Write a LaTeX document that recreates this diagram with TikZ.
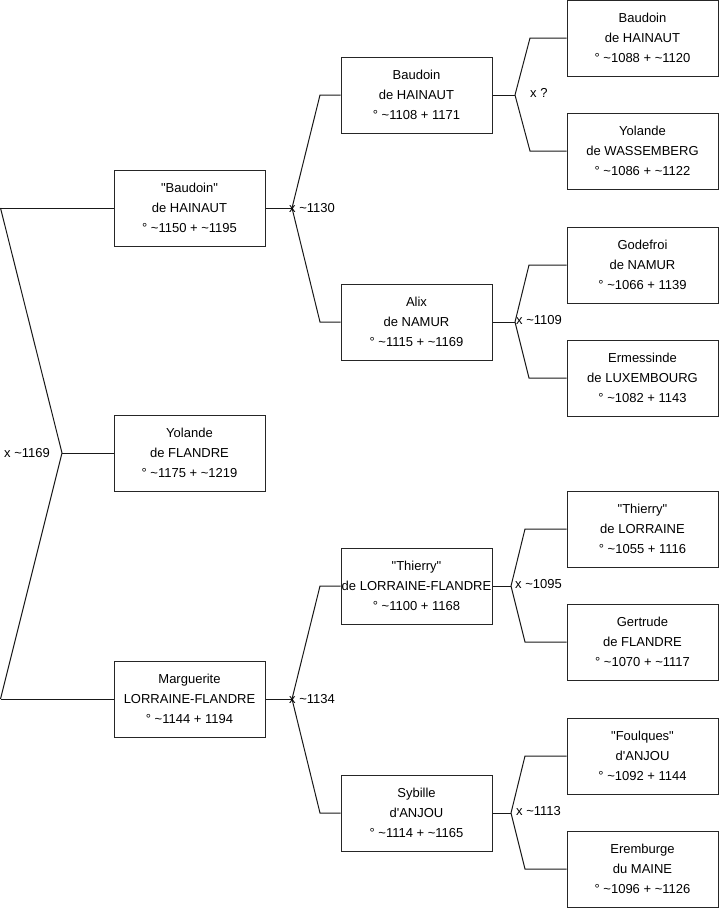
\documentclass[tikz,border=0pt]{standalone}
\usepackage{fontspec}
\setmainfont{Liberation Sans}[Ligatures=TeXOff]
\newcommand{\dq}{\char34\relax}
\newcommand{\sq}{\char39\relax}
\begin{document}
\begin{tikzpicture}[x=1pt,y=-1pt,
  person/.style={draw=black!85,line width=1pt,rectangle,minimum width=151pt,minimum height=76pt,
    inner sep=0pt,align=center,font=\fontsize{13}{20}\selectfont},
  link/.style={draw=black!90,line width=1pt},
  mlabel/.style={anchor=west,inner sep=0pt,font=\fontsize{13}{15}\selectfont}]
\useasboundingbox (0,0) rectangle (719,908);
% column 1
\node[person] (b1) at (189.5,208) {\dq Baudoin\dq\\de HAINAUT\\° \textasciitilde1150 + \textasciitilde1195};
\node[person] (y1) at (189.5,453) {Yolande\\de FLANDRE\\° \textasciitilde1175 + \textasciitilde1219};
\node[person] (m1) at (189.5,699) {Marguerite\\LORRAINE-FLANDRE\\° \textasciitilde1144 + 1194};
% column 2
\node[person] (b2) at (416.5,95) {Baudoin\\de HAINAUT\\° \textasciitilde1108 + 1171};
\node[person] (a2) at (416.5,322) {Alix\\de NAMUR\\° \textasciitilde1115 + \textasciitilde1169};
\node[person] (t2) at (416.5,586) {\dq Thierry\dq\\de LORRAINE-FLANDRE\\° \textasciitilde1100 + 1168};
\node[person] (s2) at (416.5,813) {Sybille\\d\sq ANJOU\\° \textasciitilde1114 + \textasciitilde1165};
% column 3
\node[person] (c1) at (642.5,38) {Baudoin\\de HAINAUT\\° \textasciitilde1088 + \textasciitilde1120};
\node[person] (c2) at (642.5,151) {Yolande\\de WASSEMBERG\\° \textasciitilde1086 + \textasciitilde1122};
\node[person] (c3) at (642.5,265) {Godefroi\\de NAMUR\\° \textasciitilde1066 + 1139};
\node[person] (c4) at (642.5,378) {Ermessinde\\de LUXEMBOURG\\° \textasciitilde1082 + 1143};
\node[person] (c5) at (642.5,529) {\dq Thierry\dq\\de LORRAINE\\° \textasciitilde1055 + 1116};
\node[person] (c6) at (642.5,642) {Gertrude\\de FLANDRE\\° \textasciitilde1070 + \textasciitilde1117};
\node[person] (c7) at (642.5,756) {\dq Foulques\dq\\d\sq ANJOU\\° \textasciitilde1092 + 1144};
\node[person] (c8) at (642.5,869) {Eremburge\\du MAINE\\° \textasciitilde1096 + \textasciitilde1126};
% root connector
\coordinate (r1) at (0.5,208);
\coordinate (r2) at (0.5,699);
\coordinate (j0) at (62,453);
\draw[link] (r1) -- (b1.west);
\draw[link] (r2) -- (m1.west);
\draw[link] (r1) -- (j0) -- (r2);
\draw[link] (j0) -- (y1.west);
\node[mlabel] (l0) at (4,453) {x \textasciitilde1169};
% b1 parents
\coordinate (j1) at (292,208);
\draw[link] (b1.east) -- (j1);
\draw[link] (j1) -- (320,95) -- (b2.west);
\draw[link] (j1) -- (320,322) -- (a2.west);
\node[mlabel] (l1) at (289,208) {x \textasciitilde1130};
% m1 parents
\coordinate (j2) at (292,699);
\draw[link] (m1.east) -- (j2);
\draw[link] (j2) -- (320,586) -- (t2.west);
\draw[link] (j2) -- (320,813) -- (s2.west);
\node[mlabel] (l2) at (289,699) {x \textasciitilde1134};
% b2 parents
\coordinate (j3) at (515,95);
\draw[link] (b2.east) -- (j3);
\draw[link] (j3) -- (530,38) -- (c1.west);
\draw[link] (j3) -- (530,151) -- (c2.west);
\node[mlabel] (l3) at (530,93) {x ?};
% a2 parents
\coordinate (j4) at (515,322);
\draw[link] (a2.east) -- (j4);
\draw[link] (j4) -- (529,265) -- (c3.west);
\draw[link] (j4) -- (529,378) -- (c4.west);
\node[mlabel] (l4) at (516,320) {x \textasciitilde1109};
% t2 parents
\coordinate (j5) at (511,586);
\draw[link] (t2.east) -- (j5);
\draw[link] (j5) -- (525,529) -- (c5.west);
\draw[link] (j5) -- (525,642) -- (c6.west);
\node[mlabel] (l5) at (515,584) {x \textasciitilde1095};
% s2 parents
\coordinate (j6) at (511,813);
\draw[link] (s2.east) -- (j6);
\draw[link] (j6) -- (525,756) -- (c7.west);
\draw[link] (j6) -- (525,869) -- (c8.west);
\node[mlabel] (l6) at (516,811) {x \textasciitilde1113};
\end{tikzpicture}
\end{document}
